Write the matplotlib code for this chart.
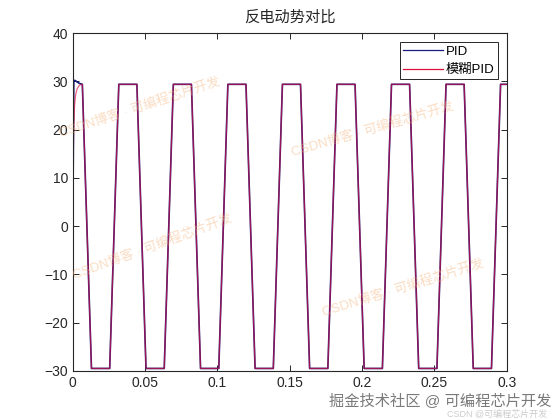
import numpy as np
import matplotlib
matplotlib.use("Agg")
import matplotlib.pyplot as plt

plt.rcParams['font.family'] = ['Liberation Sans', 'Noto Sans CJK SC', 'DejaVu Sans']

# start-up transient
pid_start_t = [0.0, 0.0007, 0.0015, 0.003, 0.0045, 0.0066]
pid_start_v = [0.0, 30.2, 30.2, 29.9, 29.6, 29.4]
fuzzy_start_t = [0.0, 0.0002, 0.0006, 0.0012, 0.002, 0.003, 0.0045, 0.0066]
fuzzy_start_v = [0.0, 12.0, 20.0, 25.0, 27.3, 28.5, 29.2, 29.4]

# trapezoid corners after the transient (same for both controllers)
corner_t = [0.0129, 0.0255, 0.0318, 0.0443,
            0.0506, 0.0632, 0.0695, 0.0820,
            0.0883, 0.1009, 0.1072, 0.1197,
            0.1260, 0.1386, 0.1449, 0.1574,
            0.1637, 0.1763, 0.1826, 0.1951,
            0.2014, 0.2140, 0.2203, 0.2328,
            0.2391, 0.2517, 0.2580, 0.2705,
            0.2768, 0.2894, 0.2957, 0.3000]
corner_v = [-29.5, -29.5, 29.4, 29.4] * 8

series_names = ['PID', '模糊PID']
title = '反电动势对比'
xtick_vals = [0, 0.05, 0.1, 0.15, 0.2, 0.25, 0.3]
xtick_labels = ['0', '0.05', '0.1', '0.15', '0.2', '0.25', '0.3']
ytick_vals = [-30, -20, -10, 0, 10, 20, 30, 40]

t_pid = pid_start_t + corner_t
v_pid = pid_start_v + corner_v
t_fz = fuzzy_start_t + corner_t
v_fz = fuzzy_start_v + corner_v

fig = plt.figure(figsize=(5.6, 4.2), dpi=100)
ax = fig.add_axes([0.13, 0.117, 0.775, 0.804])

ax.plot(t_pid, v_pid, color='#1a1a80', lw=1.2, label=series_names[0])
ax.plot(t_fz, v_fz, color='#e0103c', lw=0.9, alpha=0.65, label=series_names[1])

ax.set_xlim(0, 0.3)
ax.set_ylim(-30, 40)
ax.set_xticks(xtick_vals)
ax.set_xticklabels(xtick_labels)
ax.set_yticks(ytick_vals)
ax.tick_params(direction='in', top=True, right=True, labelsize=10, length=4, width=0.7,
               colors='#262626')
for s in ax.spines.values():
    s.set_linewidth(0.8)
    s.set_color('#262626')
ax.set_title(title, fontsize=11, color='#262626', pad=8)

leg = ax.legend(loc='upper right', fontsize=9.5, fancybox=False, framealpha=1,
                edgecolor='#262626', handlelength=3.0, borderpad=0.25,
                labelspacing=0.45, handletextpad=0.2, borderaxespad=0.7)
leg.get_frame().set_linewidth(0.7)
for ln in leg.get_lines():
    ln.set_linewidth(0.9)
    ln.set_alpha(1)

# faint diagonal watermarks
wm = 'CSDN博客 · 可编程芯片开发'
for (x, y, a) in [(140, 108, 18), (153, 247, 20), (373, 130, 16), (403, 288, 17)]:
    fig.text(x / 560, 1 - y / 420, wm, fontsize=9.5, color='#f4b27a', alpha=0.45,
             rotation=a, ha='center', va='center')

fig.text(440 / 560, 1 - 401 / 420, '掘金技术社区 @ 可编程芯片开发', fontsize=11,
         color='#7a7a7a', ha='center', va='center')
fig.text(497 / 560, 1 - 414 / 420, 'CSDN @可编程芯片开发', fontsize=6.5,
         color='#cccccc', ha='center', va='center')

fig.savefig('out.png', dpi=100)
